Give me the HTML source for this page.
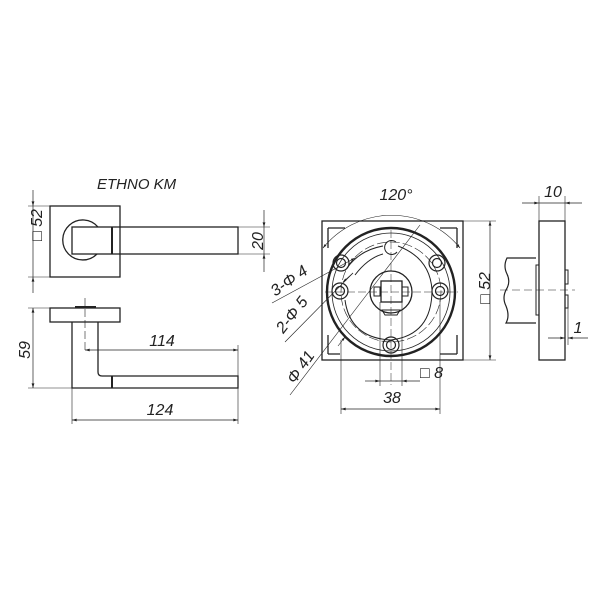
<!DOCTYPE html>
<html><head><style>body{margin:0;background:#fff}svg{display:block}text{font-family:"Liberation Sans",sans-serif;font-style:italic;fill:#222}</style></head><body>
<svg width="600" height="600" viewBox="0 0 600 600" xmlns="http://www.w3.org/2000/svg">
<defs><marker id="a" viewBox="0 0 10 6" refX="10" refY="3" markerWidth="8" markerHeight="4" orient="auto-start-reverse"><path d="M0,0L10,3L0,6z" fill="#222"/></marker></defs>
<g stroke="#222" fill="none" stroke-width="1">
<!-- left top view -->
<rect x="50" y="206" width="70" height="71" stroke-width="1.3"/>
<path d="M98,227 A20,20 0 1 0 97,254" stroke-width="1.3"/>
<rect x="72" y="227" width="166" height="27" stroke-width="1.3"/>
<line x1="112" y1="227" x2="112" y2="254" stroke-width="2"/>
<line x1="28" y1="206" x2="50" y2="206" stroke-width=".6"/><line x1="28" y1="277" x2="50" y2="277" stroke-width=".6"/>
<line x1="33" y1="190" x2="33" y2="206" marker-end="url(#a)" stroke-width=".7"/><line x1="33" y1="293" x2="33" y2="277" marker-end="url(#a)" stroke-width=".7"/><line x1="33" y1="206" x2="33" y2="277" stroke-width=".7"/>
<line x1="238" y1="227" x2="270" y2="227" stroke-width=".6"/><line x1="238" y1="254" x2="270" y2="254" stroke-width=".6"/>
<line x1="264" y1="210" x2="264" y2="227" marker-end="url(#a)" stroke-width=".7"/><line x1="264" y1="272" x2="264" y2="254" marker-end="url(#a)" stroke-width=".7"/><line x1="264" y1="227" x2="264" y2="254" stroke-width=".7"/>
<!-- side view -->
<rect x="50" y="308" width="70" height="14" stroke-width="1.3"/>
<line x1="75" y1="307" x2="96" y2="307" stroke-width="2"/>
<path d="M72,322 V388 H238 V376 H102 Q98,376 98,372 V322" stroke-width="1.3"/>
<line x1="112" y1="376" x2="112" y2="388" stroke-width="2"/>
<line x1="85" y1="298" x2="85" y2="352" stroke-width=".6" stroke-dasharray="8,3"/>
<line x1="28" y1="308" x2="50" y2="308" stroke-width=".6"/><line x1="28" y1="388" x2="72" y2="388" stroke-width=".6"/>
<line x1="33" y1="308" x2="33" y2="388" marker-start="url(#a)" marker-end="url(#a)" stroke-width=".7"/>
<line x1="85" y1="350" x2="238" y2="350" marker-start="url(#a)" marker-end="url(#a)" stroke-width=".7"/>
<line x1="238" y1="345" x2="238" y2="376" stroke-width=".6"/>
<line x1="72" y1="388" x2="72" y2="424" stroke-width=".6"/><line x1="238" y1="388" x2="238" y2="424" stroke-width=".6"/>
<line x1="72" y1="420" x2="238" y2="420" marker-start="url(#a)" marker-end="url(#a)" stroke-width=".7"/>
<!-- center view -->
<rect x="322" y="221" width="141" height="139" stroke-width="1.3"/>
<path d="M328,228 H345 M328,228 V248 M457,228 H440 M457,228 V248 M328,354 V335 M328,354 H340 M457,354 H440 M457,354 V335" stroke-width="1.3"/>
<circle cx="391" cy="292" r="64" stroke-width="2.4"/>
<circle cx="391" cy="292" r="59" stroke-width=".8"/>
<circle cx="391" cy="292" r="50" stroke-width=".6" stroke-dasharray="10,3"/>
<circle cx="391" cy="292" r="21" stroke-width="1.3"/>
<rect x="381" y="281" width="21" height="21" stroke-width="1.3"/>
<rect x="374" y="287" width="6" height="9"/><rect x="402" y="287" width="6" height="9"/>
<path d="M382,310 h18 l-3,5 h-12z"/>
<path d="M347,268 Q360,250 383,246 M355,275 Q368,258 383,254" stroke-width="1"/>
<path d="M398,246 Q430,258 432,290 Q432,335 391,340 Q350,338 345,300" stroke-width="1"/>
<path d="M396,242 A7,7 0 1 0 397,252"/>
<g stroke-width="1.2"><circle cx="341" cy="263" r="8"/><circle cx="341" cy="263" r="4.5"/><circle cx="340" cy="291" r="8"/><circle cx="340" cy="291" r="4.5"/><circle cx="437" cy="263" r="8"/><circle cx="437" cy="263" r="4.5"/><circle cx="440" cy="291" r="8"/><circle cx="440" cy="291" r="4.5"/><circle cx="391" cy="345" r="8"/><circle cx="391" cy="345" r="4.5"/></g>
<line x1="391" y1="230" x2="391" y2="385" stroke-width=".5" stroke-dasharray="8,3"/>
<line x1="325" y1="292" x2="458" y2="292" stroke-width=".5" stroke-dasharray="8,3"/>
<path d="M323,248 A88,88 0 0 1 460,248" stroke-width=".6" marker-start="url(#a)" marker-end="url(#a)"/>
<line x1="272" y1="303" x2="355" y2="258" stroke-width=".6" marker-end="url(#a)"/>
<line x1="285" y1="342" x2="353" y2="273" stroke-width=".6"/><line x1="353" y1="273" x2="343" y2="282" marker-end="url(#a)" stroke-width=".6"/>
<line x1="290" y1="395" x2="420" y2="225" stroke-width=".6"/>
<line x1="338" y1="346" x2="345" y2="337" marker-end="url(#a)" stroke-width=".6"/>
<line x1="463" y1="221" x2="496" y2="221" stroke-width=".6"/><line x1="463" y1="360" x2="496" y2="360" stroke-width=".6"/>
<line x1="490" y1="221" x2="490" y2="360" marker-start="url(#a)" marker-end="url(#a)" stroke-width=".7"/>
<line x1="341" y1="340" x2="341" y2="414" stroke-width=".6"/><line x1="440" y1="300" x2="440" y2="414" stroke-width=".6"/>
<line x1="341" y1="409" x2="440" y2="409" marker-start="url(#a)" marker-end="url(#a)" stroke-width=".7"/>
<line x1="380" y1="302" x2="380" y2="386" stroke-width=".6"/><line x1="402" y1="302" x2="402" y2="386" stroke-width=".6"/>
<line x1="365" y1="381" x2="380" y2="381" marker-end="url(#a)" stroke-width=".7"/><line x1="420" y1="381" x2="402" y2="381" marker-end="url(#a)" stroke-width=".7"/><line x1="380" y1="381" x2="402" y2="381" stroke-width=".7"/>
<!-- right view -->
<rect x="539" y="221" width="26" height="139" stroke-width="1.3"/>
<path d="M536,258 H507 Q503,266 507,274 Q511,282 506,290 Q502,298 506,306 Q510,316 506,323 H536" stroke-width="1.2"/>
<rect x="536" y="265" width="3" height="50"/>
<rect x="565" y="270" width="3" height="14"/><rect x="565" y="295" width="3" height="13"/>
<line x1="500" y1="290" x2="575" y2="290" stroke-width=".5" stroke-dasharray="8,4"/>
<line x1="539" y1="196" x2="539" y2="221" stroke-width=".6"/><line x1="565" y1="196" x2="565" y2="221" stroke-width=".6"/>
<line x1="522" y1="203" x2="539" y2="203" marker-end="url(#a)" stroke-width=".7"/><line x1="582" y1="203" x2="565" y2="203" marker-end="url(#a)" stroke-width=".7"/><line x1="539" y1="203" x2="565" y2="203" stroke-width=".7"/>
<line x1="568" y1="308" x2="568" y2="345" stroke-width=".6"/>
<line x1="548" y1="338" x2="565" y2="338" marker-end="url(#a)" stroke-width=".7"/><line x1="588" y1="338" x2="568" y2="338" marker-end="url(#a)" stroke-width=".7"/>
</g>
<g font-size="16">
<text x="97" y="189" font-size="15">ETHNO KM</text>
<text x="25" y="258" transform="rotate(-90 25 241)">□ 52</text>
<text x="258" y="241" transform="rotate(-90 258 241)" text-anchor="middle" dy="5">20</text>
<text x="25" y="350" transform="rotate(-90 25 350)" text-anchor="middle" dy="5">59</text>
<text x="162" y="346" text-anchor="middle">114</text>
<text x="160" y="415" text-anchor="middle">124</text>
<text x="396" y="200" text-anchor="middle">120°</text>
<text x="292" y="285" transform="rotate(-35 292 285)" text-anchor="middle">3-Φ 4</text>
<text x="296" y="318" transform="rotate(-52 296 318)" text-anchor="middle">2-Φ 5</text>
<text x="305" y="370" transform="rotate(-55 305 370)" text-anchor="middle">Φ 41</text>
<text x="485" y="288" transform="rotate(-90 485 288)" text-anchor="middle" dy="5">□ 52</text>
<text x="420" y="378">□ 8</text>
<text x="392" y="403" text-anchor="middle">38</text>
<text x="553" y="197" text-anchor="middle">10</text>
<text x="578" y="333" text-anchor="middle">1</text>
</g>
</svg>
</body></html>
